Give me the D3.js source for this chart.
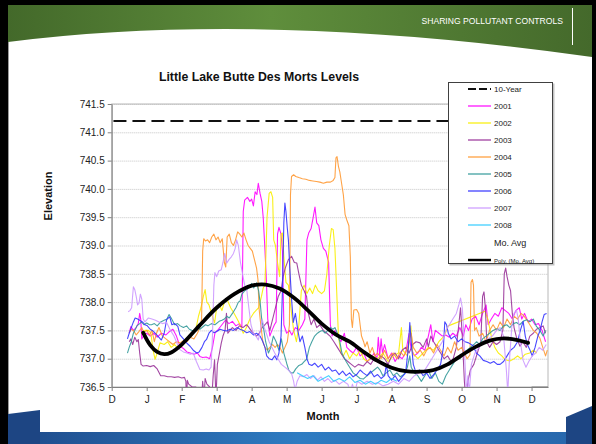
<!DOCTYPE html>
<html><head><meta charset="utf-8">
<script src="https://cdn.jsdelivr.net/npm/d3@7"></script>
<style>body{margin:0;background:#fff;overflow:hidden}svg{display:block;font-family:"Liberation Sans",Arial,sans-serif}</style>
</head><body><svg id="c" width="596" height="444"></svg>
<script>
// ---------- DATA ----------
const monthLabels = ["D","J","F","M","A","M","J","J","A","S","O","N","D"];
const yTicks = [736.5,737,737.5,738,738.5,739,739.5,740,740.5,741,741.5];
const tenYearLevel = 741.2;
const s2001 = [[0.50,737.45],[0.55,737.57],[0.62,737.5],[0.7,737.55],[0.76,737.62],[0.8,737.8],[0.83,737.7],[0.86,737.35],[0.92,737.42],[1.0,737.45],[1.1,737.4],[1.2,737.45],[1.3,737.38],[1.42,737.45],[1.55,737.42],[1.65,737.48],[1.75,737.52],[1.85,737.4],[1.95,737.22],[2.05,737.18],[2.15,737.12],[2.25,737.1],[2.35,737.08],[2.45,737.1],[2.52,737.04],[2.6,737.02],[2.7,737.03],[2.8,737.0],[2.88,737.2],[2.95,737.45],[3.05,737.52],[3.15,737.6],[3.25,737.68],[3.35,737.62],[3.45,737.66],[3.55,737.58],[3.65,737.62],[3.72,737.55],[3.76,739.6],[3.8,739.8],[3.88,739.85],[3.95,739.78],[4.0,739.82],[4.05,739.7],[4.1,739.95],[4.15,739.9],[4.19,740.1],[4.24,739.92],[4.29,739.78],[4.33,739.5],[4.37,739.05],[4.42,738.4],[4.46,737.7],[4.52,737.4],[4.58,737.5],[4.65,737.6],[4.7,737.65],[4.74,739.2],[4.78,739.32],[4.84,739.2],[4.88,738.9],[4.92,737.6],[5.0,737.45],[5.08,737.5],[5.15,737.42],[5.25,737.55],[5.35,737.5],[5.45,737.6],[5.52,737.7],[5.58,739.1],[5.63,739.22],[5.7,739.3],[5.76,739.5],[5.81,739.68],[5.86,739.4],[5.92,739.35],[5.98,739.1],[6.05,738.95],[6.12,738.9],[6.2,738.7],[6.25,737.6],[6.3,737.4],[6.38,737.5],[6.45,737.42],[6.55,737.3],[6.65,737.45],[6.72,737.2],[6.8,737.15],[6.9,737.1],[7.0,737.2],[7.1,737.05],[7.2,737.1],[7.3,736.95],[7.4,737.0],[7.5,737.1],[7.58,737.0],[7.62,737.38],[7.66,737.05],[7.7,737.35],[7.74,737.1],[7.8,737.25],[7.9,737.0],[8.0,737.1],[8.1,736.95],[8.2,737.05],[8.3,737.0],[8.4,737.1],[8.5,737.45],[8.55,737.2],[8.65,737.05],[8.75,737.1],[8.85,737.2],[8.95,737.15],[9.05,737.4],[9.12,737.6],[9.18,737.3],[9.25,737.5],[9.35,737.45],[9.45,737.4],[9.55,737.42],[9.65,737.38],[9.75,737.45],[9.85,737.4],[9.95,737.55],[10.05,737.4],[10.12,737.6],[10.2,737.5],[10.3,737.7],[10.4,737.75],[10.5,737.6],[10.6,737.8],[10.7,737.95],[10.76,737.6],[10.85,737.7],[10.95,737.8],[11.05,737.75],[11.15,737.9],[11.25,737.85],[11.35,737.8],[11.45,737.7],[11.55,737.85],[11.65,737.9],[11.72,737.7],[11.8,737.8],[11.9,737.65],[12.0,737.7],[12.1,737.6],[12.2,737.62],[12.3,737.5],[12.4,737.3]];
const s2002 = [[0.85,737.45],[0.95,737.5],[1.05,737.5],[1.12,737.45],[1.18,737.16],[1.24,736.99],[1.3,737.1],[1.38,737.28],[1.5,737.25],[1.6,737.3],[1.7,737.2],[1.8,737.25],[1.9,737.18],[2.0,737.22],[2.1,737.3],[2.2,737.35],[2.3,737.42],[2.4,737.5],[2.48,737.75],[2.55,737.9],[2.62,738.1],[2.67,738.22],[2.72,738.0],[2.78,737.95],[2.85,737.8],[2.94,737.63],[3.0,737.9],[3.08,737.95],[3.15,737.85],[3.22,738.0],[3.3,738.04],[3.4,737.9],[3.5,737.8],[3.62,737.66],[3.7,737.55],[3.76,737.45],[3.85,737.55],[3.95,737.7],[4.05,737.8],[4.12,737.85],[4.2,737.9],[4.28,738.1],[4.33,738.25],[4.38,738.3],[4.44,739.5],[4.5,739.92],[4.55,739.95],[4.6,739.85],[4.63,739.1],[4.68,739.0],[4.74,738.7],[4.8,738.45],[4.84,739.2],[4.88,739.22],[4.92,738.8],[4.98,738.35],[5.05,738.3],[5.12,737.9],[5.2,737.5],[5.28,737.3],[5.35,737.6],[5.42,738.2],[5.5,738.3],[5.58,738.15],[5.66,738.25],[5.74,738.15],[5.82,738.3],[5.9,738.2],[6.0,738.15],[6.08,738.2],[6.15,738.5],[6.22,739.0],[6.28,739.3],[6.33,739.28],[6.38,738.95],[6.43,738.2],[6.48,737.4],[6.55,737.1],[6.62,737.05],[6.7,737.15],[6.8,737.0],[6.9,737.1],[7.0,737.05],[7.1,737.15],[7.2,737.0],[7.3,736.95],[7.45,737.05],[7.6,737.0],[7.75,737.1],[7.9,736.95],[8.05,737.05],[8.2,737.1],[8.28,737.55],[8.32,737.15],[8.45,737.05],[8.55,737.58],[8.6,737.1],[8.75,737.0],[8.9,737.1],[9.05,737.2],[9.2,737.15],[9.35,737.3],[9.5,737.4],[9.62,737.58],[10.67,737.84],[10.75,737.7],[10.85,737.4],[10.95,737.2],[11.05,737.1],[11.15,737.05],[11.25,736.98],[11.38,736.96],[11.5,737.0],[11.6,737.05],[11.7,737.0],[11.82,737.08],[11.95,737.1],[12.05,737.15],[12.15,737.1]];
const s2003 = [[0.5,737.3],[0.55,737.35],[0.6,737.25],[0.66,737.38],[0.72,737.3],[0.76,737.34],[0.8,737.1],[0.84,736.9],[0.9,736.87],[1.0,736.88],[1.1,736.86],[1.2,736.88],[1.3,736.82],[1.4,736.7],[1.5,736.7],[1.6,736.68],[1.7,736.68],[1.8,736.67],[1.9,736.68],[2.0,736.66],[2.08,736.67],[2.12,736.6],[2.14,736.2],[2.16,736.62],[2.2,736.55],[2.3,736.5],[2.4,736.5],[2.5,736.45],[2.57,736.3],[2.6,736.6],[2.64,736.3],[2.67,736.65],[2.72,736.55],[2.8,736.5],[2.86,736.3],[2.9,736.7],[2.94,736.98],[2.98,736.3],[3.02,736.9],[3.08,737.1],[3.13,737.27],[3.18,737.4],[3.24,737.5],[3.28,737.8],[3.32,737.45],[3.38,737.5],[3.45,737.55],[3.55,737.5],[3.65,737.58],[3.75,737.55],[3.85,737.6],[3.9,737.57],[3.98,737.5],[4.05,737.45],[4.14,737.4],[4.22,737.45],[4.3,737.55],[4.38,737.6],[4.45,737.65],[4.52,737.5],[4.6,737.7],[4.68,737.9],[4.76,738.1],[4.84,738.2],[4.9,738.45],[4.96,738.6],[5.05,738.75],[5.14,738.81],[5.22,738.7],[5.29,738.69],[5.35,738.5],[5.42,738.3],[5.5,738.2],[5.57,738.1],[5.62,737.8],[5.7,737.6],[5.78,737.7],[5.86,737.55],[5.95,737.6],[6.05,737.5],[6.15,737.45],[6.24,737.4],[6.35,737.3],[6.45,737.2],[6.55,737.1],[6.65,737.0],[6.75,736.95],[6.85,736.9],[6.95,736.85],[7.05,736.9],[7.19,736.87],[7.3,736.95],[7.4,736.9],[7.5,737.0],[7.6,736.95],[7.7,737.05],[7.8,737.0],[7.9,736.9],[8.0,737.05],[8.1,737.1],[8.2,737.0],[8.3,737.15],[8.4,737.2],[8.5,737.1],[8.6,737.25],[8.7,737.3],[8.81,737.28],[8.9,737.2],[9.0,737.35],[9.05,737.21],[9.12,737.4],[9.2,737.3],[9.3,737.2],[9.4,737.1],[9.5,737.0],[9.6,737.05],[9.7,736.95],[9.76,737.0],[9.85,737.2],[9.92,737.6],[9.97,737.9],[10.02,737.4],[10.08,736.6],[10.12,736.3],[10.18,736.6],[10.25,736.8],[10.35,736.9],[10.45,737.1],[10.55,737.3],[10.6,738.1],[10.64,738.18],[10.68,737.9],[10.72,737.3],[10.8,737.2],[10.9,737.3],[11.0,737.25],[11.1,737.3],[11.18,737.5],[11.22,738.5],[11.26,738.6],[11.3,738.45],[11.35,738.3],[11.4,738.2],[11.45,737.8],[11.5,737.55],[11.58,737.35],[11.67,737.22],[11.75,737.3],[11.85,737.2],[11.95,737.4],[12.05,737.45],[12.14,737.52],[12.25,737.55],[12.33,737.58],[12.4,737.45]];
const s2004 = [[0.5,737.45],[0.55,737.52],[0.62,737.5],[0.7,737.42],[0.78,737.48],[0.86,737.55],[0.92,737.46],[1.0,737.5],[1.08,737.42],[1.15,737.5],[1.22,737.3],[1.28,737.45],[1.35,737.55],[1.45,737.4],[1.55,737.35],[1.65,737.3],[1.75,737.25],[1.85,737.3],[1.95,737.28],[2.05,737.32],[2.15,737.3],[2.25,737.38],[2.35,737.35],[2.45,737.45],[2.52,737.55],[2.57,737.7],[2.6,738.9],[2.63,739.12],[2.68,739.08],[2.74,739.1],[2.8,739.05],[2.86,739.15],[2.92,739.2],[2.98,739.1],[3.04,739.15],[3.1,739.05],[3.16,739.12],[3.22,738.7],[3.26,738.62],[3.3,739.15],[3.36,739.2],[3.42,739.05],[3.48,739.0],[3.54,739.1],[3.6,739.24],[3.66,739.2],[3.72,739.15],[3.78,739.22],[3.84,739.1],[3.9,739.0],[3.96,738.95],[4.02,738.9],[4.08,738.75],[4.14,738.6],[4.18,738.4],[4.21,737.9],[4.26,737.6],[4.32,737.3],[4.38,737.2],[4.45,737.15],[4.52,737.2],[4.6,737.25],[4.67,737.2],[4.74,737.25],[4.81,737.2],[4.88,737.1],[4.95,737.2],[5.02,737.3],[5.08,737.6],[5.11,739.9],[5.14,740.22],[5.2,740.25],[5.26,740.22],[5.35,740.2],[5.45,740.18],[5.55,740.17],[5.65,740.15],[5.75,740.14],[5.85,740.13],[5.95,740.12],[6.05,740.1],[6.15,740.12],[6.25,740.12],[6.33,740.15],[6.38,740.2],[6.41,740.55],[6.44,740.57],[6.48,740.4],[6.52,740.3],[6.57,740.1],[6.62,739.9],[6.67,739.55],[6.72,739.45],[6.78,739.35],[6.82,738.8],[6.85,737.7],[6.88,737.55],[6.92,737.86],[7.0,737.87],[7.06,737.8],[7.1,737.6],[7.14,737.4],[7.2,737.3],[7.24,737.21],[7.3,737.3],[7.38,737.1],[7.45,737.2],[7.52,737.05],[7.6,737.1],[7.7,737.0],[7.8,737.15],[7.9,737.0],[7.95,737.05],[8.05,737.1],[8.15,737.0],[8.25,737.12],[8.35,737.05],[8.43,737.15],[8.5,737.3],[8.56,737.45],[8.62,737.2],[8.72,737.1],[8.82,737.15],[8.92,737.05],[9.0,737.15],[9.1,737.2],[9.2,737.1],[9.3,737.25],[9.4,737.15],[9.5,737.05],[9.6,737.2],[9.7,737.1],[9.8,737.3],[9.9,737.15],[10.0,737.2],[10.08,737.1],[10.16,737.0],[10.24,737.07],[10.27,738.35],[10.31,738.4],[10.34,738.3],[10.37,737.5],[10.42,737.55],[10.5,737.4],[10.6,737.45],[10.7,737.3],[10.8,737.5],[10.9,737.6],[11.0,737.5],[11.1,737.65],[11.2,737.55],[11.3,737.7],[11.4,737.6],[11.5,737.75],[11.6,737.7],[11.7,737.8],[11.76,737.77],[11.85,737.7],[11.95,737.6],[12.05,737.5],[12.15,737.45],[12.24,737.36],[12.32,737.2],[12.4,737.05],[12.45,737.15]];
const s2005 = [[0.45,737.1],[0.5,737.2],[0.56,737.3],[0.62,737.45],[0.66,737.5],[0.72,737.58],[0.8,737.62],[0.85,737.65],[0.92,737.6],[1.0,737.63],[1.08,737.6],[1.14,737.6],[1.22,737.62],[1.3,737.58],[1.4,737.65],[1.5,737.68],[1.58,737.7],[1.64,737.78],[1.7,737.72],[1.8,737.6],[1.88,737.62],[1.96,737.58],[2.05,737.55],[2.14,737.58],[2.22,737.52],[2.3,737.5],[2.37,737.48],[2.45,737.55],[2.52,737.52],[2.6,737.56],[2.68,737.6],[2.75,737.58],[2.85,737.62],[2.95,737.6],[3.07,737.66],[3.15,737.68],[3.22,737.7],[3.29,737.75],[3.36,737.72],[3.45,737.8],[3.55,737.9],[3.62,738.0],[3.67,738.02],[3.72,738.14],[3.8,738.2],[3.86,738.22],[3.95,738.28],[4.0,738.33],[4.06,738.25],[4.14,738.34],[4.2,738.2],[4.25,737.95],[4.29,737.68],[4.35,737.5],[4.4,737.3],[4.48,737.1],[4.55,737.2],[4.62,737.4],[4.7,737.3],[4.78,737.15],[4.85,737.35],[4.92,737.1],[5.0,736.92],[5.06,736.8],[5.12,736.75],[5.19,736.75],[5.26,736.82],[5.35,736.88],[5.43,736.9],[5.5,736.95],[5.57,736.99],[5.65,737.2],[5.72,737.3],[5.8,737.4],[5.88,737.45],[5.95,737.48],[6.02,737.5],[6.1,737.45],[6.18,737.5],[6.25,737.55],[6.32,737.52],[6.38,737.55],[6.45,737.45],[6.52,737.3],[6.58,737.1],[6.62,737.05],[6.7,736.95],[6.8,736.85],[6.9,736.75],[7.0,736.7],[7.1,736.65],[7.19,736.64],[7.3,736.7],[7.4,736.75],[7.5,736.8],[7.6,736.85],[7.67,736.8],[7.75,736.7],[7.85,736.75],[7.95,736.8],[8.05,736.7],[8.15,736.75],[8.25,736.68],[8.35,736.72],[8.45,736.85],[8.52,737.05],[8.56,736.85],[8.65,736.75],[8.75,736.7],[8.85,736.6],[8.95,736.7],[9.05,736.8],[9.15,736.65],[9.25,736.75],[9.35,736.6],[9.45,736.55],[9.55,736.7],[9.65,736.8],[9.75,736.9],[9.85,737.0],[9.95,737.0],[10.05,737.1],[10.15,737.15],[10.25,737.2],[10.35,737.25],[10.43,737.3],[10.52,737.25],[10.6,737.35],[10.7,737.4],[10.8,737.45],[10.9,737.5],[11.0,737.53],[11.1,737.5],[11.2,737.58],[11.29,737.6],[11.38,737.55],[11.48,737.62],[11.57,737.64],[11.66,737.6],[11.76,737.66],[11.86,737.69],[11.95,737.65],[12.05,737.7],[12.14,737.57],[12.24,737.5],[12.33,737.4],[12.4,737.5]];
const s2006 = [[0.45,737.35],[0.5,737.45],[0.56,737.55],[0.62,737.65],[0.67,737.72],[0.74,737.7],[0.8,737.68],[0.88,737.65],[0.95,737.6],[1.02,737.58],[1.1,737.52],[1.16,737.5],[1.24,737.45],[1.32,737.4],[1.42,737.33],[1.5,737.45],[1.57,737.69],[1.62,737.72],[1.66,737.74],[1.72,737.6],[1.8,737.62],[1.89,737.57],[1.95,737.42],[2.05,737.35],[2.14,737.28],[2.24,737.22],[2.33,737.15],[2.43,737.1],[2.5,737.12],[2.58,737.2],[2.65,737.3],[2.71,737.34],[2.78,737.45],[2.85,737.5],[2.92,737.46],[3.0,737.48],[3.1,737.52],[3.2,737.5],[3.28,737.49],[3.38,737.52],[3.48,737.5],[3.58,737.55],[3.67,737.52],[3.76,737.5],[3.86,737.46],[3.95,737.48],[4.05,737.42],[4.14,737.45],[4.24,737.4],[4.32,737.3],[4.38,737.2],[4.43,737.05],[4.5,737.0],[4.58,736.98],[4.66,737.05],[4.72,736.98],[4.78,737.1],[4.84,737.4],[4.88,738.2],[4.92,739.4],[4.95,739.75],[4.98,739.6],[5.02,739.3],[5.05,739.1],[5.09,738.6],[5.14,738.06],[5.19,737.64],[5.25,737.8],[5.32,737.5],[5.38,737.3],[5.45,737.4],[5.52,737.2],[5.58,737.0],[5.64,736.9],[5.72,736.88],[5.8,736.92],[5.9,736.85],[6.0,736.9],[6.1,736.8],[6.2,736.85],[6.3,736.78],[6.4,736.8],[6.5,736.72],[6.6,736.78],[6.7,736.7],[6.8,736.75],[6.9,736.68],[7.0,736.72],[7.1,736.8],[7.19,736.75],[7.3,736.7],[7.4,736.78],[7.5,736.68],[7.6,736.72],[7.7,736.65],[7.8,736.7],[7.85,736.9],[7.9,736.7],[8.0,736.62],[8.1,736.7],[8.2,736.6],[8.3,736.68],[8.4,736.75],[8.48,737.2],[8.52,737.64],[8.56,737.3],[8.62,736.9],[8.7,736.75],[8.8,736.8],[8.9,736.7],[9.0,736.75],[9.1,736.65],[9.2,736.72],[9.3,736.8],[9.4,736.9],[9.48,737.2],[9.52,737.65],[9.57,737.6],[9.62,737.45],[9.7,737.35],[9.8,737.4],[9.9,737.3],[10.0,737.35],[10.1,737.3],[10.2,737.28],[10.33,737.23],[10.42,737.1],[10.52,737.05],[10.62,736.97],[10.72,736.95],[10.82,736.92],[10.92,736.95],[11.02,736.9],[11.1,736.9],[11.2,736.95],[11.3,737.05],[11.4,737.15],[11.5,737.2],[11.6,737.3],[11.68,737.5],[11.76,737.66],[11.82,737.4],[11.88,737.25],[11.95,737.16],[12.02,737.05],[12.1,737.2],[12.18,737.4],[12.24,737.49],[12.3,737.65],[12.36,737.78],[12.43,737.8]];
const s2007 = [[0.47,737.83],[0.52,737.85],[0.57,737.9],[0.62,738.27],[0.66,738.22],[0.7,738.1],[0.74,737.95],[0.78,737.98],[0.82,738.14],[0.86,738.05],[0.9,737.7],[0.95,737.65],[1.05,737.72],[1.15,737.7],[1.25,737.68],[1.35,737.65],[1.45,737.62],[1.57,737.64],[1.68,737.5],[1.78,737.4],[1.88,737.25],[1.95,737.16],[2.05,737.12],[2.15,737.1],[2.25,737.08],[2.33,737.1],[2.42,736.95],[2.52,736.81],[2.62,736.8],[2.7,736.82],[2.78,736.8],[2.84,736.85],[2.88,737.4],[2.92,738.3],[2.95,738.52],[3.0,738.45],[3.06,738.55],[3.13,738.57],[3.18,738.7],[3.23,738.86],[3.29,738.69],[3.35,738.75],[3.42,738.8],[3.48,738.86],[3.53,738.95],[3.57,739.1],[3.62,739.0],[3.68,738.7],[3.74,738.5],[3.8,738.3],[3.86,738.22],[3.92,737.9],[3.98,737.6],[4.05,737.45],[4.12,737.4],[4.19,737.33],[4.25,737.5],[4.3,737.7],[4.36,737.55],[4.42,737.45],[4.5,737.3],[4.58,737.2],[4.66,737.1],[4.75,737.0],[4.85,736.9],[4.95,736.85],[5.05,736.8],[5.14,736.74],[5.2,736.6],[5.24,736.45],[5.3,736.6],[5.38,736.7],[5.48,736.68],[5.58,736.72],[5.68,736.65],[5.78,736.7],[5.88,736.62],[5.98,736.68],[6.08,736.6],[6.18,736.65],[6.28,736.58],[6.38,736.62],[6.5,736.55],[6.62,736.6],[6.75,736.55],[6.82,736.4],[6.88,736.55],[6.95,736.4],[7.02,736.6],[7.15,736.55],[7.3,736.6],[7.45,736.55],[7.6,736.58],[7.75,736.52],[7.9,736.55],[8.05,736.6],[8.2,736.55],[8.35,736.65],[8.5,736.6],[8.65,736.7],[8.8,736.75],[8.95,736.8],[9.05,736.9],[9.15,737.0],[9.25,737.1],[9.35,737.2],[9.45,737.3],[9.55,737.5],[9.65,737.6],[9.75,737.7],[9.85,737.8],[9.92,737.95],[9.97,738.07],[10.02,737.9],[10.06,737.5],[10.1,736.9],[10.14,736.4],[10.18,736.7],[10.22,736.4],[10.28,736.9],[10.38,737.1],[10.5,737.2],[10.62,737.3],[10.75,737.35],[10.88,737.4],[11.0,737.5],[11.1,737.55],[11.2,737.4],[11.28,736.8],[11.32,736.4],[11.36,736.9],[11.44,737.6],[11.5,737.8],[11.57,737.86],[11.62,737.7],[11.68,737.3],[11.76,736.97],[11.84,736.85],[11.92,736.95],[12.02,737.05],[12.12,737.1],[12.22,737.2],[12.32,737.15],[12.42,737.25]];
const s2008 = [[5.3,736.75],[5.45,736.7],[5.6,736.65],[5.75,736.7],[5.9,736.6],[6.05,736.65],[6.2,736.7],[6.35,736.6],[6.5,736.65],[6.65,736.6],[6.8,736.68],[6.95,736.58],[7.1,736.62],[7.25,736.55],[7.4,736.6],[7.55,736.55],[7.7,736.62],[7.85,736.58],[8.0,736.65],[8.15,736.6]];
const polyMonths = [0.9,1.1,1.3,1.5,1.7,2.0,2.5,3.0,3.5,4.0,4.4,4.8,5.2,5.6,6.0,6.4,6.8,7.2,7.6,8.0,8.4,8.8,9.2,9.6,10.0,10.4,10.8,11.2,11.6,11.9];
const polyValues = [737.46,737.24,737.12,737.08,737.11,737.25,737.58,737.9,738.14,738.29,738.31,738.24,738.08,737.86,737.62,737.43,737.3,737.12,736.96,736.84,736.78,736.77,736.8,736.9,737.06,737.21,737.32,737.36,737.33,737.28];
const seriesNames = ["2001","2002","2003","2004","2005","2006","2007","2008"];
const seriesData = [s2001,s2002,s2003,s2004,s2005,s2006,s2007,s2008];
const legendNames = ["10-Year","2001","2002","2003","2004","2005","2006","2007","2008","Mo. Avg","Poly. (Mo. Avg)"];

// ---------- STYLE ----------
const seriesColors = ["#ff00ff","#f8ee00","#993399","#ff9933","#339999","#3333ff","#cc99ff","#33ccff"];

const svg = d3.select("#c");
const defs = svg.append("defs");
const gG = defs.append("linearGradient").attr("id","gG");
[["0%","#43692a"],["45%","#5f8e3c"],["100%","#44692b"]].forEach(s=>gG.append("stop").attr("offset",s[0]).attr("stop-color",s[1]));
const gB = defs.append("linearGradient").attr("id","gB");
[["0%","#1e4a8a"],["50%","#2e7cc2"],["100%","#2766ab"]].forEach(s=>gB.append("stop").attr("offset",s[0]).attr("stop-color",s[1]));

// slide background
svg.append("rect").attr("width",596).attr("height",444).attr("fill","#000");
svg.append("rect").attr("x",8).attr("y",5).attr("width",584).attr("height",439).attr("fill","#fff");
svg.append("line").attr("x1",8.5).attr("x2",8.5).attr("y1",40).attr("y2",444).attr("stroke","#9a9a9a");
svg.append("path").attr("d","M8,5 L592,5 L592,57 Q260,10 8,42 Z").attr("fill","url(#gG)");
svg.append("line").attr("x1",572.5).attr("x2",572.5).attr("y1",8).attr("y2",45).attr("stroke","#fff").attr("stroke-width",1);
svg.append("text").attr("x",563).attr("y",24).attr("text-anchor","end").attr("fill","#fff").attr("font-size",8.6).text("SHARING POLLUTANT CONTROLS");
// footer
svg.append("rect").attr("x",8).attr("y",432).attr("width",584).attr("height",12).attr("fill","url(#gB)");
svg.append("path").attr("d","M8,414 L40,410 L40,444 L8,444 Z").attr("fill","#1d4583");
svg.append("path").attr("d","M566,417 L592,406 L592,444 L566,444 Z").attr("fill","#1d4583");

// ---------- CHART ----------
const L=111.7, R=548, T=104, B=387;
const x = d3.scaleLinear().domain([0,12.47]).range([L,R]);
const y = d3.scaleLinear().domain([736.5,741.5]).range([B,T]);

svg.append("text").attr("x",259).attr("y",81).attr("text-anchor","middle").attr("font-size",12.3).attr("font-weight","bold").attr("fill","#111").text("Little Lake Butte Des Morts Levels");

// gridlines
svg.append("g").selectAll("line").data(yTicks.slice(1)).join("line")
  .attr("x1",L).attr("x2",R).attr("y1",d=>y(d)+0.5).attr("y2",d=>y(d)+0.5)
  .attr("stroke","#c4c4c4").attr("stroke-dasharray","1,1");
svg.append("rect").attr("x",L).attr("y",T).attr("width",R-L).attr("height",B-T).attr("fill","none").attr("stroke","#b8b8b8");

defs.append("clipPath").attr("id","clip").append("rect").attr("x",L).attr("y",T-2).attr("width",R-L).attr("height",B-T+2);
const plot = svg.append("g").attr("clip-path","url(#clip)");

// 10-year
plot.append("line").attr("x1",x(0.05)).attr("x2",x(12.47)).attr("y1",y(tenYearLevel)).attr("y2",y(tenYearLevel))
  .attr("stroke","#111").attr("stroke-width",2).attr("stroke-dasharray","13,6");

const line = d3.line().x(d=>x(d[0])).y(d=>y(d[1]));
seriesData.forEach((s,i)=>{
  plot.append("path").attr("d",line(s)).attr("fill","none").attr("stroke",seriesColors[i]).attr("stroke-width",1.1).attr("stroke-linejoin","round").attr("opacity",0.9);
});
const polyPts = polyMonths.map((m,i)=>[m,polyValues[i]]);
plot.append("path").attr("d",d3.line().x(d=>x(d[0])).y(d=>y(d[1])).curve(d3.curveCatmullRom)(polyPts))
  .attr("fill","none").attr("stroke","#000").attr("stroke-width",3.8).attr("stroke-linecap","round");

// axes
const xAxis = d3.axisBottom(x).tickValues(d3.range(0,13)).tickFormat(i=>monthLabels[i]).tickSize(4).tickSizeOuter(0).tickPadding(5);
const gx = svg.append("g").attr("transform",`translate(0,${B})`).call(xAxis);
const yAxis = d3.axisLeft(y).tickValues(yTicks).tickFormat(d3.format(".1f")).tickSize(4).tickSizeOuter(0).tickPadding(3);
const gy = svg.append("g").attr("transform",`translate(${L},0)`).call(yAxis);
[gx,gy].forEach(g=>{
  g.select(".domain").attr("stroke","#808080");
  g.selectAll(".tick line").attr("stroke","#808080");
  g.selectAll("text").attr("font-size",10).attr("fill","#222").attr("font-family","Liberation Sans, Arial, sans-serif");
});
gx.append("line").attr("x1",x(12)).attr("x2",R).attr("stroke","#808080");

svg.append("text").attr("x",323).attr("y",420).attr("text-anchor","middle").attr("font-size",11).attr("font-weight","bold").attr("fill","#111").text("Month");
svg.append("text").attr("transform","translate(52,196) rotate(-90)").attr("text-anchor","middle").attr("font-size",11).attr("font-weight","bold").attr("fill","#111").text("Elevation");

// legend
const lg = svg.append("g");
lg.append("rect").attr("x",449.5).attr("y",83.5).attr("width",105).attr("height",182).attr("fill","#888").attr("opacity",0.5);
lg.append("rect").attr("x",448.5).attr("y",82.5).attr("width",104).attr("height",181).attr("fill","#fff").attr("stroke","#404040");
const ly = [89,106,123,140,157,174,191,208,225,243,260];
legendNames.forEach((n,i)=>{
  const yy = ly[i];
  if(i===0){
    lg.append("line").attr("x1",468).attr("x2",491).attr("y1",yy).attr("y2",yy).attr("stroke","#111").attr("stroke-width",2).attr("stroke-dasharray","8,3");
  } else if(i<=8){
    lg.append("line").attr("x1",468).attr("x2",491).attr("y1",yy).attr("y2",yy).attr("stroke",seriesColors[i-1]).attr("stroke-width",1.2);
  } else if(i===10){
    lg.append("line").attr("x1",468).attr("x2",491).attr("y1",yy).attr("y2",yy).attr("stroke","#000").attr("stroke-width",2.4);
  }
  lg.append("text").attr("x",494).attr("y",yy+3).attr("font-size",i===10?6:(i===9?9:8)).attr("fill","#222").text(n);
});
</script></body></html>
